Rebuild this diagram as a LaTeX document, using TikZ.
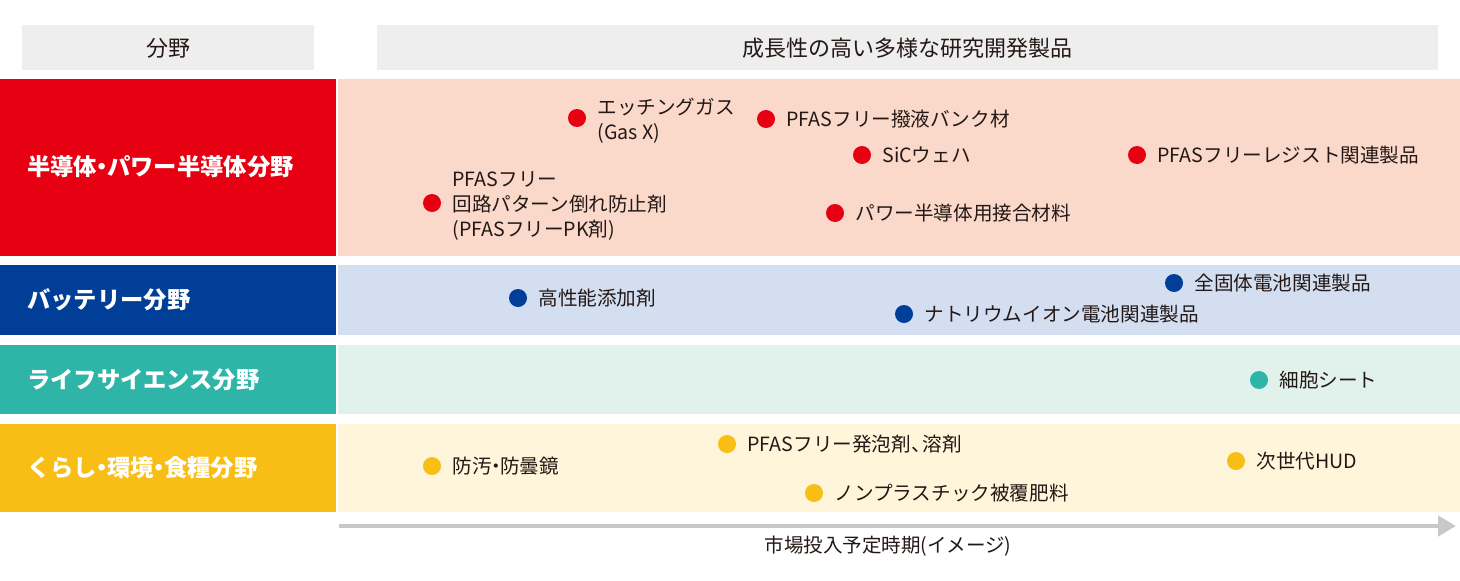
\documentclass[tikz,border=0pt]{standalone}
\usepackage{fontspec}
\setmainfont{Noto Sans CJK JP}
\usetikzlibrary{positioning,arrows.meta}
\definecolor{ink}{HTML}{231815}
\definecolor{headgray}{HTML}{EEEEEE}
\definecolor{axisgray}{HTML}{C8C8C8}
\definecolor{semired}{HTML}{E60012}
\definecolor{semibg}{HTML}{FAD9CA}
\definecolor{battblue}{HTML}{003E98}
\definecolor{battbg}{HTML}{D4DEF1}
\definecolor{lifeteal}{HTML}{2EB5A7}
\definecolor{lifebg}{HTML}{E1F1EB}
\definecolor{livyellow}{HTML}{F8BE16}
\definecolor{livbg}{HTML}{FEF5DA}
\newcommand{\prodfont}{\fontsize{19.6}{25}\selectfont}
\newcommand{\fieldfont}{\fontsize{23.3}{26}\selectfont\bfseries}
\newcommand{\headfont}{\fontsize{22}{24}\selectfont}
\newcommand{\nk}{\hspace{-0.28em}・\hspace{-0.28em}}

\tikzset{
  prodot/.style={circle, fill=#1, minimum size=18pt, inner sep=0pt},
  prodtext/.style={anchor=west, inner sep=0pt, text=ink, font=\prodfont, align=left},
  fieldtext/.style={anchor=west, inner sep=0pt, text=white, font=\fieldfont},
}

\begin{document}
\begin{tikzpicture}[x=1pt,y=-1pt]
  \useasboundingbox (0,0) rectangle (1460,581);
  % header
  \fill[headgray] (22,25) rectangle (314,70);
  \fill[headgray] (377,25) rectangle (1438,70);
  \node[text=ink, font=\headfont] (fieldHead) at (168,48) {分野};
  \node[text=ink, font=\headfont] (prodHead) at (907.5,48) {成長性の高い多様な研究開発製品};
  % bands
  \fill[semired] (0,79) rectangle (336,256);
  \fill[semibg] (338,79) rectangle (1460,256);
  \fill[battblue] (0,265) rectangle (336,335);
  \fill[battbg] (338,265) rectangle (1460,335);
  \fill[lifeteal] (0,345) rectangle (336,414);
  \fill[lifebg] (338,345) rectangle (1460,414);
  \fill[livyellow] (0,424) rectangle (336,512);
  \fill[livbg] (338,424) rectangle (1460,512);
  \node[fieldtext] (semiField) at (27,167) {半導体\nk パワー半導体分野};
  \node[fieldtext] (battField) at (27,300) {バッテリー分野};
  \node[fieldtext] (lifeField) at (27,380) {ライフサイエンス分野};
  \node[fieldtext] (livField) at (27,468) {くらし\nk 環境\nk 食糧分野};
  % semiconductor
  \node[prodot=semired] (etch) at (577,118) {};
  \node[prodtext, right=11pt of etch, yshift=-3pt] (etchT) {エッチングガス\\(Gas X)};
  \node[prodot=semired] (bank) at (766,119) {};
  \node[prodtext, right=11pt of bank] (bankT) {PFASフリー撥液バンク材};
  \node[prodot=semired] (sic) at (862,155) {};
  \node[prodtext, right=11pt of sic] (sicT) {SiCウェハ};
  \node[prodot=semired] (resist) at (1137,155) {};
  \node[prodtext, right=11pt of resist] (resistT) {PFASフリーレジスト関連製品};
  \node[prodot=semired] (pk) at (432,203) {};
  \node[prodtext, right=11pt of pk, yshift=-3pt] (pkT) {PFASフリー\\回路パターン倒れ防止剤\\(PFASフリーPK剤)};
  \node[prodot=semired] (bond) at (835,213) {};
  \node[prodtext, right=11pt of bond] (bondT) {パワー半導体用接合材料};
  % battery
  \node[prodot=battblue] (additive) at (518,298) {};
  \node[prodtext, right=11pt of additive] (additiveT) {高性能添加剤};
  \node[prodot=battblue] (solid) at (1174,283) {};
  \node[prodtext, right=11pt of solid] (solidT) {全固体電池関連製品};
  \node[prodot=battblue] (sodium) at (904,314) {};
  \node[prodtext, right=11pt of sodium] (sodiumT) {ナトリウムイオン電池関連製品};
  % life science
  \node[prodot=lifeteal] (cell) at (1259,380) {};
  \node[prodtext, right=11pt of cell] (cellT) {細胞シート};
  % living
  \node[prodot=livyellow] (mirror) at (432,466) {};
  \node[prodtext, right=11pt of mirror] (mirrorT) {防汚\nk 防曇鏡};
  \node[prodot=livyellow] (foam) at (727,444) {};
  \node[prodtext, right=11pt of foam] (foamT) {PFASフリー発泡剤、\hspace{-0.4em}溶剤};
  \node[prodot=livyellow] (hud) at (1236,461) {};
  \node[prodtext, right=11pt of hud] (hudT) {次世代HUD};
  \node[prodot=livyellow] (fert) at (814,493) {};
  \node[prodtext, right=11pt of fert] (fertT) {ノンプラスチック被覆肥料};
  % time axis
  \coordinate (axisL) at (339,526);
  \coordinate (axisR) at (1456,526);
  \draw[axisgray, line width=4.5pt, -{Triangle[length=18pt,width=20pt]}] (axisL) -- (axisR);
  \node[text=ink, font=\fontsize{19.5}{22}\selectfont] (axisT) at (888,546) {市場投入予定時期(イメージ)};
\end{tikzpicture}
\end{document}
